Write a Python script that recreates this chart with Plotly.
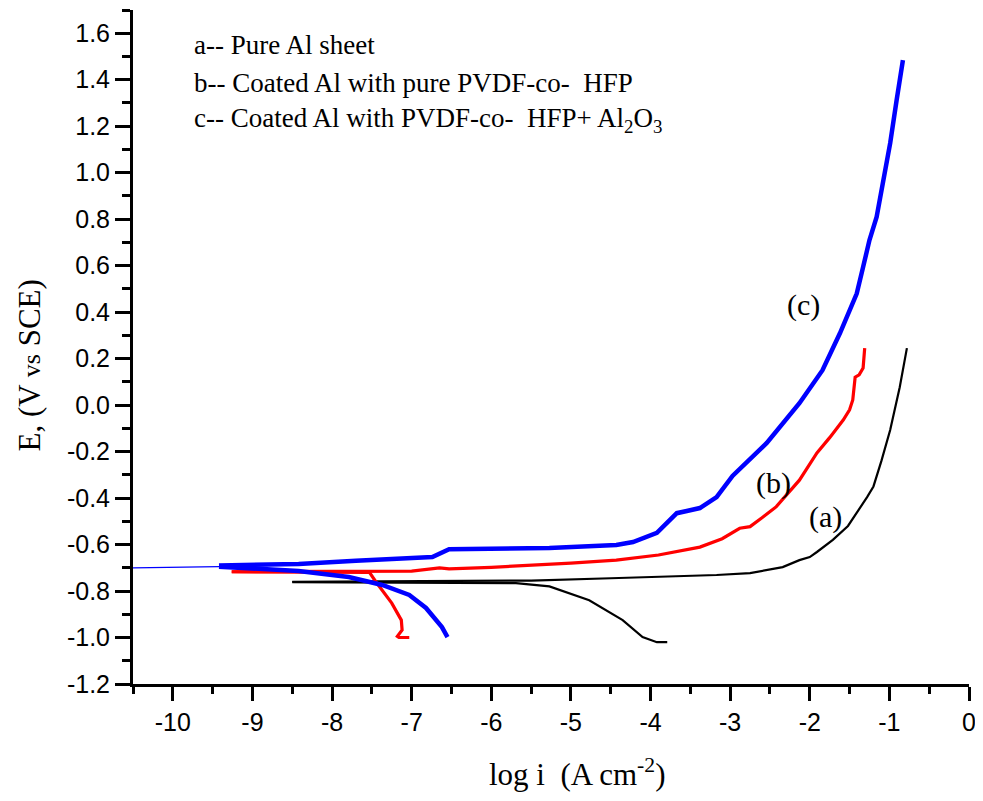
import plotly.graph_objects as go

# ---- data (log i vs E) ----
# (a) Pure Al sheet - black
a_cath_x = [-8.5, -7.0, -6.0, -5.69, -5.27, -4.77, -4.35, -4.1, -3.92, -3.79]
a_cath_y = [-0.762, -0.763, -0.764, -0.766, -0.78, -0.84, -0.925, -0.998, -1.02, -1.02]
a_anod_x = [-8.5, -7.0, -5.5, -4.5, -4.01, -3.5, -3.17, -2.75, -2.54, -2.34, -2.13, -2.0, -1.91,
            -1.71, -1.52, -1.38, -1.28, -1.2, -1.1, -0.99, -0.87, -0.78]
a_anod_y = [-0.760, -0.759, -0.755, -0.745, -0.740, -0.735, -0.731, -0.723, -0.71, -0.697, -0.667,
            -0.654, -0.632, -0.58, -0.52, -0.45, -0.396, -0.35, -0.24, -0.107, 0.077, 0.245]

# (b) Coated Al with pure PVDF-co-HFP - red
b_cath_x = [-9.26, -8.5, -7.8, -7.53, -7.45, -7.37, -7.25, -7.13, -7.12, -7.18, -7.16, -7.03]
b_cath_y = [-0.717, -0.717, -0.717, -0.72, -0.76, -0.796, -0.852, -0.925, -0.968, -0.995, -1.0, -1.0]
b_anod_x = [-9.26, -8.0, -7.0, -6.65, -6.53, -6.0, -5.69, -5.0, -4.43, -3.9, -3.38, -3.1, -2.88,
            -2.75, -2.6, -2.42, -2.13, -1.91, -1.75, -1.58, -1.5, -1.46, -1.43, -1.38, -1.33, -1.31]
b_anod_y = [-0.717, -0.716, -0.714, -0.70, -0.705, -0.698, -0.693, -0.68, -0.667, -0.645, -0.611,
            -0.575, -0.53, -0.523, -0.485, -0.437, -0.323, -0.206, -0.14, -0.064, -0.02, 0.022,
            0.12, 0.13, 0.16, 0.245]

# (c) Coated Al with PVDF-co-HFP + Al2O3 - blue
c_base_x = [-10.5, -9.42]
c_base_y = [-0.700, -0.695]
c_cath_x = [-9.42, -8.42, -7.79, -7.37, -7.03, -6.82, -6.62, -6.55]
c_cath_y = [-0.695, -0.714, -0.74, -0.774, -0.817, -0.873, -0.955, -0.998]
c_anod_x = [-9.42, -8.42, -7.70, -6.74, -6.53, -5.27, -4.43, -4.22, -3.92, -3.76, -3.67, -3.38,
            -3.17, -2.97, -2.54, -2.13, -1.84, -1.62, -1.46, -1.41, -1.33, -1.25, -1.16, -1.08,
            -0.99, -0.91, -0.83]
c_anod_y = [-0.690, -0.684, -0.670, -0.654, -0.620, -0.615, -0.602, -0.589, -0.55, -0.494,
            -0.465, -0.443, -0.396, -0.305, -0.163, 0.008, 0.15, 0.31, 0.44, 0.48, 0.594, 0.71,
            0.81, 0.955, 1.127, 1.31, 1.484]

# ---- ticks ----
x_tick_vals = [-10, -9, -8, -7, -6, -5, -4, -3, -2, -1, 0]
x_tick_text = ["-10", "-9", "-8", "-7", "-6", "-5", "-4", "-3", "-2", "-1", "0"]
y_tick_vals = [-1.2, -1.0, -0.8, -0.6, -0.4, -0.2, 0.0, 0.2, 0.4, 0.6, 0.8, 1.0, 1.2, 1.4, 1.6]
y_tick_text = ["-1.2", "-1.0", "-0.8", "-0.6", "-0.4", "-0.2", "0.0", "0.2", "0.4", "0.6",
               "0.8", "1.0", "1.2", "1.4", "1.6"]

legend_lines = [
    "a-- Pure Al sheet",
    "b-- Coated Al with pure PVDF-co-\u00a0 HFP",
    "c-- Coated Al with PVDF-co-\u00a0 HFP+ Al<sub>2</sub>O<sub>3</sub>",
]
legend_y = [1.548, 1.388, 1.225]
curve_labels = ["(a)", "(b)", "(c)"]
curve_label_x = [-1.80, -2.45, -2.08]
curve_label_y = [-0.482, -0.335, 0.43]

fig = go.Figure()

def add(x, y, color, width):
    fig.add_trace(go.Scatter(x=x, y=y, mode="lines", showlegend=False,
                             line=dict(color=color, width=width), hoverinfo="skip"))

add(c_base_x, c_base_y, "#0000ff", 1.2)
add(a_cath_x, a_cath_y, "#000000", 2.2)
add(a_anod_x, a_anod_y, "#000000", 2.2)
add(b_cath_x, b_cath_y, "#ff0000", 3.2)
add(b_anod_x, b_anod_y, "#ff0000", 3.2)
add(c_cath_x, c_cath_y, "#0000ff", 4.5)
add(c_anod_x, c_anod_y, "#0000ff", 4.5)

serif = "Liberation Serif, Times New Roman, serif"
sans = "Liberation Sans, Arial, sans-serif"

for t, ly in zip(legend_lines, legend_y):
    fig.add_annotation(x=-9.76, y=ly, xref="x", yref="y", text=t,
                       showarrow=False, xanchor="left", yanchor="middle",
                       font=dict(family=serif, size=27, color="black"))

for t, lx, ly in zip(curve_labels, curve_label_x, curve_label_y):
    fig.add_annotation(x=lx, y=ly, xref="x", yref="y", text=t, showarrow=False,
                       xanchor="center", yanchor="middle",
                       font=dict(family=serif, size=30, color="black"))

fig.add_annotation(x=0.532, y=-0.1306, xref="paper", yref="paper",
                   text="log i\u00a0 (A cm<sup>-2</sup>)", showarrow=False,
                   xanchor="center", yanchor="middle",
                   font=dict(family=serif, size=31, color="black"))
fig.add_annotation(x=-0.124, y=0.473, xref="paper", yref="paper",
                   text="E, (V <span style='font-size:26px'>vs</span> SCE)", showarrow=False,
                   textangle=-90, xanchor="center", yanchor="middle",
                   font=dict(family=serif, size=31, color="black"))

# page body has an 8px default margin, so the figure is sized/offset to compensate
fig.update_layout(
    width=975, height=793,
    margin=dict(l=125, r=14, t=2, b=117, autoexpand=False),
    paper_bgcolor="white", plot_bgcolor="white",
    xaxis=dict(range=[-10.5, 0], showgrid=False, zeroline=False, automargin=False,
               showline=True, linecolor="black", linewidth=3,
               tickmode="array", tickvals=x_tick_vals, ticktext=x_tick_text,
               ticks="outside", ticklen=14, tickwidth=3, tickcolor="black",
               tickfont=dict(family=sans, size=25, color="black"),
               minor=dict(tickmode="linear", tick0=-10.5, dtick=0.5, ticks="outside",
                          ticklen=7, tickwidth=3, tickcolor="black", showgrid=False)),
    yaxis=dict(range=[-1.2, 1.7], showgrid=False, zeroline=False, automargin=False,
               showline=True, linecolor="black", linewidth=3,
               tickmode="array", tickvals=y_tick_vals, ticktext=y_tick_text,
               ticks="outside", ticklen=15, tickwidth=3, tickcolor="black",
               tickfont=dict(family=sans, size=25, color="black"),
               minor=dict(tickmode="linear", tick0=-1.2, dtick=0.1, ticks="outside",
                          ticklen=8, tickwidth=3, tickcolor="black", showgrid=False)),
)

fig.write_html("out.html")
